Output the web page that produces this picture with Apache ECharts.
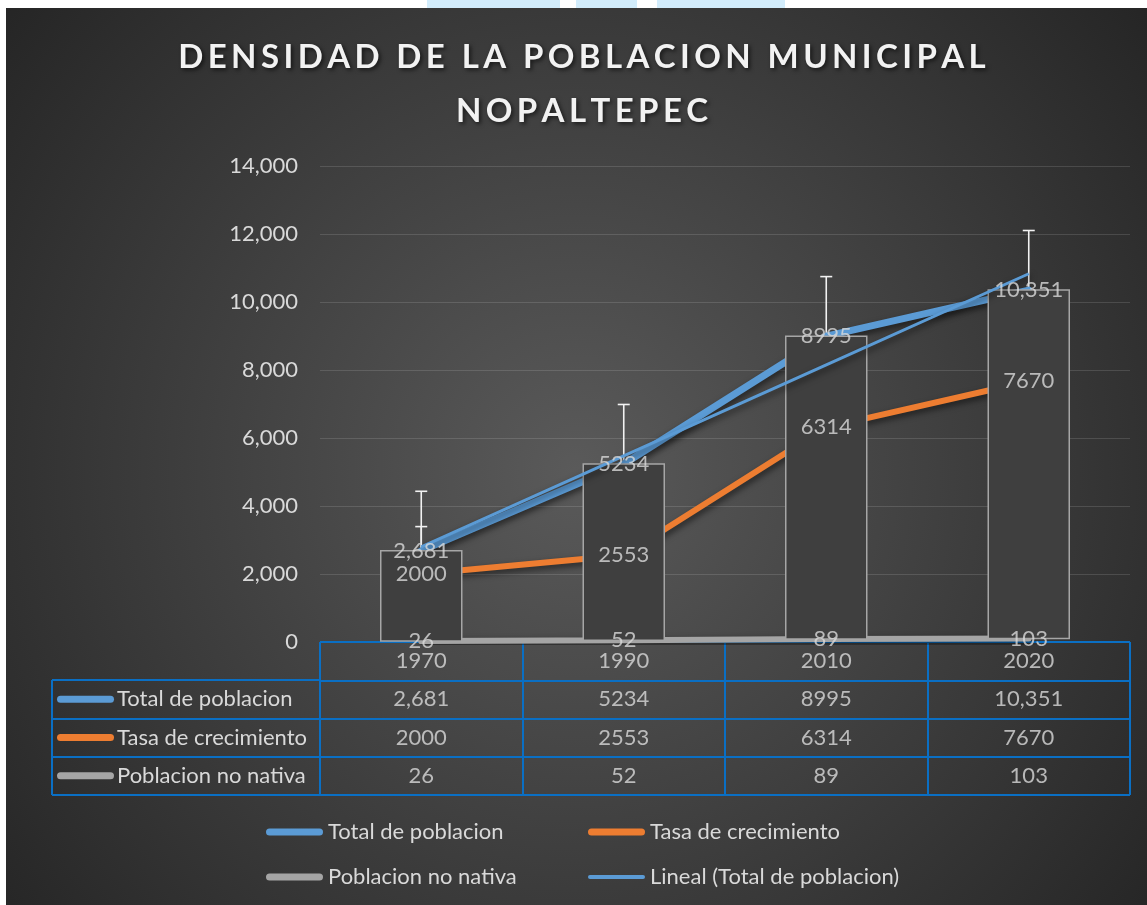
<!DOCTYPE html>
<html>
<head>
<meta charset="utf-8">
<script src="https://cdn.jsdelivr.net/npm/echarts@6/dist/echarts.min.js"></script>
<style>
html,body{margin:0;padding:0;background:#fff;}
#chart{width:1147px;height:905px;}
</style>
</head>
<body>
<div id="chart"></div>
<script>
// datos
const years = ['1970', '1990', '2010', '2020'];
const total = [2681, 5234, 8995, 10351];
const totalText = ['2,681', '5234', '8995', '10,351'];
const tasa = [2000, 2553, 6314, 7670];
const noNativa = [26, 52, 89, 103];
const lineal = [2800, 5477, 8154, 10831];
const errTotal = [1752, 1752, 1752, 1752];
const errTasa = [1394, 1394, 1394, 1394];
const rowNames = ['Total de poblacion', 'Tasa de crecimiento', 'Poblacion no nativa'];
const linealName = 'Lineal (Total de poblacion)';
const titleLines = ['DENSIDAD DE LA POBLACION MUNICIPAL', 'NOPALTEPEC'];

const BLUE = '#5b9bd5', ORANGE = '#ed7d31', GRAY = '#a5a5a5', TABLE = '#0a6fc4', TXT = '#d9d9d9';
const FONT = 'Lato';
const FS = 22;
const shadow = {shadowColor: 'rgba(0,0,0,0.55)', shadowBlur: 6, shadowOffsetX: 2, shadowOffsetY: 3};

const keyThick = 'path://M3.5,0H53.5A3.5,3.5 0 0 1 53.5,7H3.5A3.5,3.5 0 0 1 3.5,0Z';
const keyThin = 'path://M2,0H55A2,2 0 0 1 55,4H2A2,2 0 0 1 2,0Z';

// titulo espaciado letra por letra
const titleText = titleLines.map(l => l.split('').map(c => '{s|' + c + '}').join('')).join('\n');

const labelData = [];
total.forEach((v, i) => labelData.push({value: [i, v], name: totalText[i]}));
tasa.forEach((v, i) => labelData.push({value: [i, v], name: String(v)}));
noNativa.forEach((v, i) => labelData.push({value: [i, v], name: String(v)}));

const cellData = [];
years.forEach((y, i) => {
  cellData.push({value: [i, 0], name: y});
  cellData.push({value: [i, 1], name: totalText[i]});
  cellData.push({value: [i, 2], name: String(tasa[i])});
  cellData.push({value: [i, 3], name: String(noNativa[i])});
});

const errData = total.map((v, i) => [i, v, errTotal[i]])
  .concat(tasa.map((v, i) => [i, v, errTasa[i]]));

function renderBar(params, api) {
  const i = api.value(0);
  const lo = api.coord([i, api.value(1)]);
  const hi = api.coord([i, api.value(2)]);
  const w = api.size([1, 0])[0] * 0.4;
  return {
    type: 'rect',
    shape: {x: lo[0] - w / 2, y: hi[1], width: w, height: lo[1] - hi[1]},
    style: {fill: '#3f3f3f', stroke: '#a6a6a6', lineWidth: 1.5}
  };
}

function renderErr(params, api) {
  const i = api.value(0);
  const p0 = api.coord([i, api.value(1)]);
  const p1 = api.coord([i, api.value(1) + api.value(2)]);
  const st = {stroke: '#f2f2f2', lineWidth: 1.6};
  return {
    type: 'group',
    children: [
      {type: 'line', shape: {x1: p0[0], y1: p0[1], x2: p1[0], y2: p1[1]}, style: st},
      {type: 'line', shape: {x1: p1[0] - 6, y1: p1[1], x2: p1[0] + 6, y2: p1[1]}, style: st}
    ]
  };
}

const chart = echarts.init(document.getElementById('chart'));
chart.setOption({
  animation: false,
  backgroundColor: {
    type: 'radial', x: 576, y: 470, r: 740, global: true,
    colorStops: [{offset: 0, color: '#5a5a5a'}, {offset: 1, color: '#252525'}]
  },
  graphic: [
    {type: 'rect', shape: {x: 0, y: 0, width: 1147, height: 8}, style: {fill: '#fff'}},
    {type: 'rect', shape: {x: 0, y: 0, width: 6, height: 905}, style: {fill: '#fff'}},
    {type: 'rect', shape: {x: 427, y: 0, width: 133, height: 8}, style: {fill: '#d2ecfb'}},
    {type: 'rect', shape: {x: 576, y: 0, width: 61, height: 8}, style: {fill: '#d2ecfb'}},
    {type: 'rect', shape: {x: 657, y: 0, width: 128, height: 8}, style: {fill: '#d2ecfb'}}
  ],
  title: {
    text: titleText,
    left: 582, top: 30, padding: 0, textAlign: 'center',
    textStyle: {
      lineHeight: 54,
      rich: {
        s: {
          fontFamily: FONT, fontWeight: 'bold', fontSize: 33, lineHeight: 54, color: '#f2f2f2',
          padding: [0, 2.2, 0, 2.2],
          textShadowColor: 'rgba(0,0,0,0.6)', textShadowBlur: 4, textShadowOffsetX: 2, textShadowOffsetY: 2
        }
      }
    }
  },
  legend: [
    {
      orient: 'vertical', left: 266, top: 821, padding: 0, itemGap: 23, itemWidth: 57, itemHeight: 7,
      textStyle: {fontFamily: FONT, fontSize: FS, color: TXT},
      data: [{name: rowNames[0], icon: keyThick}, {name: rowNames[2], icon: keyThick}]
    },
    {
      orient: 'vertical', left: 588, top: 821, padding: 0, itemGap: 23, itemWidth: 57, itemHeight: 7,
      textStyle: {fontFamily: FONT, fontSize: FS, color: TXT},
      data: [{name: rowNames[1], icon: keyThick}, {name: linealName, icon: keyThin}]
    }
  ],
  grid: [
    {left: 320, right: 17, top: 166, bottom: 263},
    {left: 320, right: 17, top: 642, height: 153},
    {left: 52, width: 268, top: 680, height: 115}
  ],
  xAxis: [
    {type: 'category', data: years, boundaryGap: true,
      axisLine: {show: false}, axisTick: {show: false}, axisLabel: {show: false}},
    {type: 'category', gridIndex: 1, data: years, boundaryGap: true,
      axisLine: {show: false}, axisTick: {show: false}, axisLabel: {show: false},
      splitLine: {show: true, lineStyle: {color: TABLE, width: 2}}},
    {type: 'category', gridIndex: 2, data: [''], boundaryGap: true,
      axisLine: {show: false}, axisTick: {show: false}, axisLabel: {show: false},
      splitLine: {show: true, lineStyle: {color: TABLE, width: 2}}}
  ],
  yAxis: [
    {type: 'value', min: 0, max: 14000, interval: 2000,
      axisLine: {show: false}, axisTick: {show: false},
      axisLabel: {color: TXT, fontFamily: FONT, fontSize: FS, margin: 22,
        formatter: v => v.toLocaleString('en-US')},
      splitLine: {lineStyle: {color: 'rgba(255,255,255,0.13)', width: 1}}},
    {type: 'category', gridIndex: 1, data: ['', ...rowNames], inverse: true,
      axisLine: {show: false}, axisTick: {show: false}, axisLabel: {show: false},
      splitLine: {show: true, lineStyle: {color: TABLE, width: 2}}},
    {type: 'category', gridIndex: 2, data: rowNames, inverse: true,
      axisLine: {show: false}, axisTick: {show: false},
      axisLabel: {
        inside: true, margin: 5,
        formatter: (v, idx) => '{k' + idx + '|}{t|' + v + '}',
        rich: {
          k0: {width: 57, height: 7, backgroundColor: BLUE, borderRadius: 3.5},
          k1: {width: 57, height: 7, backgroundColor: ORANGE, borderRadius: 3.5},
          k2: {width: 57, height: 7, backgroundColor: GRAY, borderRadius: 3.5},
          t: {color: TXT, fontFamily: FONT, fontSize: FS, padding: [0, 0, 0, 3]}
        }
      },
      splitLine: {show: true, lineStyle: {color: TABLE, width: 2}}}
  ],
  series: [
    {type: 'custom', name: 'error', renderItem: renderErr, data: errData,
      encode: {x: 0, y: 1}, z: 1, silent: true},
    {type: 'line', name: rowNames[0], data: total, symbol: 'none', z: 2,
      itemStyle: {color: BLUE}, lineStyle: Object.assign({color: BLUE, width: 7, cap: 'round'}, shadow)},
    {type: 'line', name: rowNames[1], data: tasa, symbol: 'none', z: 2,
      itemStyle: {color: ORANGE}, lineStyle: Object.assign({color: ORANGE, width: 6, cap: 'round'}, shadow)},
    {type: 'line', name: rowNames[2], data: noNativa, symbol: 'none', z: 2,
      itemStyle: {color: GRAY}, lineStyle: Object.assign({color: GRAY, width: 6, cap: 'round'}, shadow)},
    {type: 'custom', name: 'barras', renderItem: renderBar,
      data: years.map((y, i) => [i, noNativa[i], total[i]]),
      encode: {x: 0, y: [1, 2]}, z: 3, silent: true},
    {type: 'line', name: linealName, data: lineal, symbol: 'none', z: 4,
      itemStyle: {color: BLUE}, lineStyle: Object.assign({color: BLUE, width: 3}, shadow)},
    {type: 'scatter', name: 'etiquetas', data: labelData, symbolSize: 1, z: 6, silent: true,
      itemStyle: {color: 'rgba(0,0,0,0)'},
      label: {show: true, position: 'inside', formatter: '{b}', color: TXT, fontFamily: FONT, fontSize: FS}},
    {type: 'scatter', name: 'tabla', xAxisIndex: 1, yAxisIndex: 1, data: cellData, symbolSize: 1, silent: true,
      itemStyle: {color: 'rgba(0,0,0,0)'},
      label: {show: true, position: 'inside', formatter: '{b}', color: TXT, fontFamily: FONT, fontSize: FS}}
  ]
});
</script>
</body>
</html>
